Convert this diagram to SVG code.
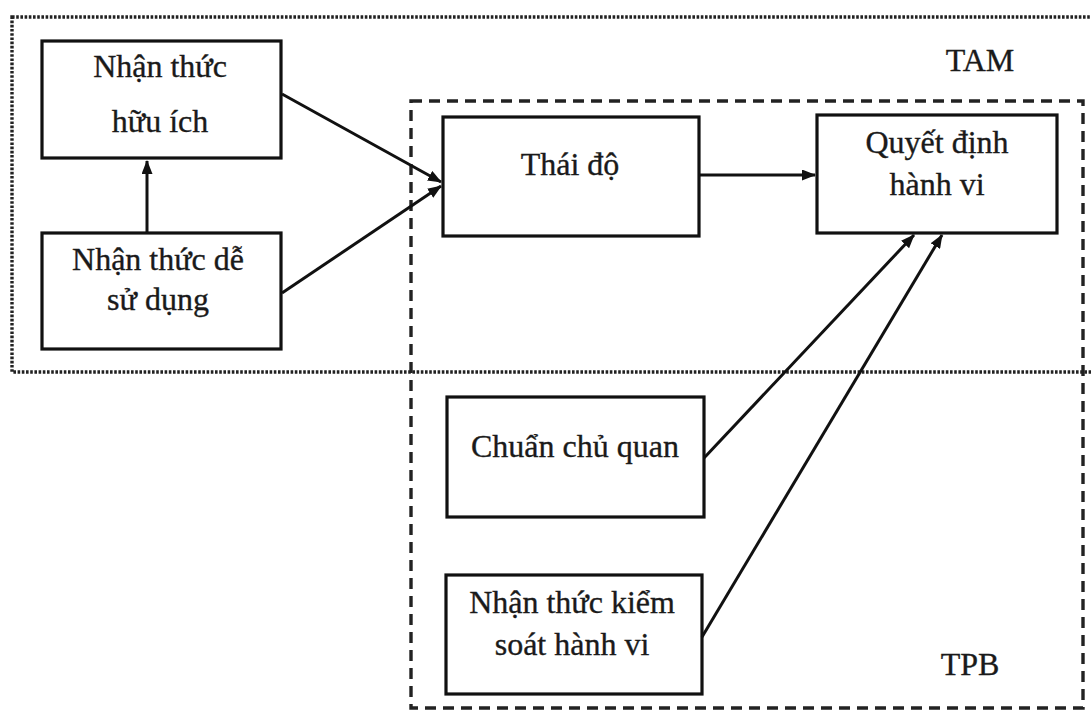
<svg xmlns="http://www.w3.org/2000/svg" width="1091" height="712" viewBox="0 0 1091 712">
<defs>
<style>
.box{fill:#fff;stroke:#111;stroke-width:3.2}
.t{font-family:"Liberation Serif","Times New Roman",serif;font-size:32px;fill:#1a1a1a;stroke:#1a1a1a;stroke-width:0.35;text-anchor:middle}
.c{stroke:#111;stroke-width:3;fill:none;marker-end:url(#ah)}
</style>
<marker id="ah" viewBox="0 0 14 11" refX="13" refY="5.5" markerWidth="14" markerHeight="11" markerUnits="userSpaceOnUse" orient="auto">
<path d="M0,0 L14,5.5 L0,11 Z" fill="#111"/>
</marker>
</defs>
<rect width="1091" height="712" fill="#fff"/>
<g id="tam-frame">
<rect x="12" y="17" width="1095" height="355" fill="none" stroke="#222" stroke-width="3.4" stroke-dasharray="2.6 1.6"/>
<text class="t" x="980" y="71">TAM</text>
</g>
<g id="tpb-frame">
<rect x="411" y="101" width="672" height="607" fill="none" stroke="#222" stroke-width="3.4" stroke-dasharray="11 7"/>
<text class="t" x="970" y="675">TPB</text>
</g>
<g id="huu-ich">
<rect class="box" x="42" y="41" width="239" height="117"/>
<text class="t" x="160" y="77">Nhận thức</text>
<text class="t" x="160" y="132">hữu ích</text>
</g>
<g id="de-su-dung">
<rect class="box" x="42" y="233" width="239" height="116"/>
<text class="t" x="158" y="270">Nhận thức dễ</text>
<text class="t" x="158" y="310">sử dụng</text>
</g>
<g id="thai-do">
<rect class="box" x="443" y="117" width="256" height="119"/>
<text class="t" x="570" y="175">Thái độ</text>
</g>
<g id="quyet-dinh">
<rect class="box" x="817" y="115" width="240" height="118"/>
<text class="t" x="937" y="153">Quyết định</text>
<text class="t" x="937" y="195">hành vi</text>
</g>
<g id="chuan-chu-quan">
<rect class="box" x="447" y="397" width="257" height="120"/>
<text class="t" x="575" y="457">Chuẩn chủ quan</text>
</g>
<g id="kiem-soat">
<rect class="box" x="446" y="575" width="256" height="119"/>
<text class="t" x="572" y="613">Nhận thức kiểm</text>
<text class="t" x="572" y="655">soát hành vi</text>
</g>
<g id="connectors">
<line class="c" x1="147" y1="233" x2="147" y2="161"/>
<line class="c" x1="282" y1="94" x2="441" y2="182"/>
<line class="c" x1="282" y1="293" x2="441" y2="186"/>
<line class="c" x1="700" y1="175" x2="815" y2="175"/>
<line class="c" x1="704" y1="458" x2="914" y2="235"/>
<line class="c" x1="702" y1="637" x2="942" y2="235"/>
</g>
</svg>
